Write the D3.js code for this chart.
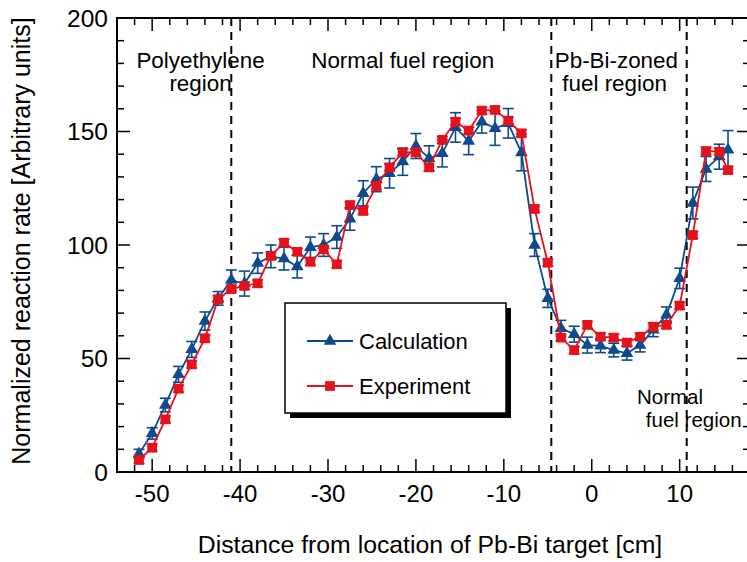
<!DOCTYPE html>
<html><head><meta charset="utf-8">
<script src="https://cdn.jsdelivr.net/npm/d3@7"></script>
<style>body{margin:0;background:#fff;} text{font-family:"Liberation Sans",Arial,sans-serif;fill:#000;}</style>
</head><body><svg id="c" width="747" height="562"></svg>
<script>
const positions = [-51.5,-50,-48.5,-47,-45.5,-44,-42.5,-41,-39.5,-38,-36.5,-35,-33.5,-32,-30.5,-29,-27.5,-26,-24.5,-23,-21.5,-20,-18.5,-17,-15.5,-14,-12.5,-11,-9.5,-8,-6.5,-5,-3.5,-2,-0.5,1,2.5,4,5.5,7,8.5,10,11.5,13,14.5,15.5];
const calculation = [8,17,29.5,43,54,66.5,76.5,84.5,83,92,95,94,90.5,99,100,103.5,111.5,122.8,129,131.6,136.7,143.6,138.2,140.4,151.8,145.8,154.3,151.4,153.6,140.7,100,76.5,63.3,60.7,55.9,55.6,53.7,52.3,55.9,62.6,69.2,85.3,118.5,133.5,138.9,141.9];
const calcError = [2,2.5,3,3.5,3.5,4,3,4.5,5.5,4.5,5,5,5,4.5,5,5,5,5.5,5.5,6.5,6,5.5,5.5,6,6.5,6,5,7.5,6.5,8,5,4,3.5,3.5,3.5,3,3,3,3,3,3.5,4.5,7,5.5,5.5,8.5];
const experiment = [5.3,10.7,23.2,36.7,47.4,58.9,76.1,80.6,82,83.1,95.2,101,97,92.6,98.1,91.5,117.6,115,126,134.2,140.8,140.8,134.2,146.3,154.3,150.4,159.2,159.5,154.8,149.2,115.9,92.2,59.2,53.7,64.8,59.6,59.2,57,59.6,64,64.8,73.3,104.4,141.4,141.1,133];
const expError = [1.5,1.5,1.5,1.5,1.5,1.5,1.5,1.5,1.5,1.5,1.5,1.5,1.5,1.5,1.5,1.5,1.5,1.5,1.5,1.5,1.5,1.5,1.5,1.5,1.5,1.5,1.5,1.5,1.5,1.5,1.5,1.5,1.5,1.5,1.5,1.5,1.5,1.5,1.5,1.5,1.5,1.5,1.5,1.5,1.5,1.5];
const xTicks = [-50,-40,-30,-20,-10,0,10];
const yTicks = [0,50,100,150,200];
const boundaries = [-41,-4.6,10.8];
const regionLabels = [
  {x:-44.5, y:178, text:"Polyethylene", size:22.4},
  {x:-44.5, y:168, text:"region", size:22.4},
  {x:-21.5, y:178, text:"Normal fuel region", size:22.4},
  {x:2.8, y:178, text:"Pb-Bi-zoned", size:22.4},
  {x:2.6, y:168, text:"fuel region", size:22.4},
  {x:8.9, y:30, text:"Normal", size:20.5},
  {x:11.6, y:20, text:"fuel region", size:20.5}
];
const seriesNames = ["Calculation","Experiment"];
const blue = "#0e4a8e", red = "#e3121b";

const svg = d3.select("#c");
const L=117, R=750, T=18, B=472;
const x = d3.scaleLinear().domain([-54,18]).range([L,R]);
const y = d3.scaleLinear().domain([0,200]).range([B,T]);

// frame ticks
const g = svg.append("g");
const minorX = d3.range(-54,19,2).filter(v=>v%10!==0);
const minorY = d3.range(10,200,10).filter(v=>v%50!==0);
function tk(x1,y1,x2,y2){g.append("line").attr("x1",x1).attr("y1",y1).attr("x2",x2).attr("y2",y2).attr("stroke","#000").attr("stroke-width",1.5);}
xTicks.forEach(v=>{tk(x(v),B,x(v),B-13);tk(x(v),T,x(v),T+13);});
minorX.forEach(v=>{tk(x(v),B,x(v),B-7);tk(x(v),T,x(v),T+7);});
yTicks.forEach(v=>{tk(L,y(v),L+13,y(v));tk(R,y(v),R-13,y(v));});
minorY.forEach(v=>{tk(L,y(v),L+7,y(v));tk(R,y(v),R-7,y(v));});
g.append("rect").attr("x",L).attr("y",T).attr("width",R-L).attr("height",B-T).attr("fill","none").attr("stroke","#000").attr("stroke-width",2);

// tick labels
xTicks.forEach(v=>g.append("text").attr("x",x(v)).attr("y",502).attr("text-anchor","middle").attr("font-size",24).text(v));
yTicks.forEach(v=>g.append("text").attr("x",108).attr("y",y(v)+8.5).attr("text-anchor","end").attr("font-size",24.5).text(v));

// axis titles
svg.append("text").attr("x",430).attr("y",553).attr("text-anchor","middle").attr("font-size",24.8).text("Distance from location of Pb-Bi target [cm]");
svg.append("text").attr("transform","translate(30,241) rotate(-90)").attr("text-anchor","middle").attr("font-size",25).text("Normalized reaction rate [Arbitrary units]");

// boundaries
boundaries.forEach(v=>svg.append("line").attr("x1",x(v)).attr("x2",x(v)).attr("y1",T).attr("y2",B).attr("stroke","#000").attr("stroke-width",2).attr("stroke-dasharray","8,6"));

// region labels
regionLabels.forEach(r=>svg.append("text").attr("x",x(r.x)).attr("y",y(r.y)).attr("text-anchor","middle").attr("font-size",r.size).text(r.text));

const calcData = positions.map((p,i)=>({x:p,v:calculation[i],e:calcError[i]}));
const expData = positions.map((p,i)=>({x:p,v:experiment[i],e:expError[i]}));
const line = d3.line().x(d=>x(d.x)).y(d=>y(d.v));

function drawSeries(data,color,sym,size){
  const s = svg.append("g");
  s.append("path").datum(data).attr("d",line).attr("fill","none").attr("stroke",color).attr("stroke-width",1.8);
  data.forEach(d=>{
    const cx=x(d.x), y1=y(d.v+d.e), y2=y(d.v-d.e);
    s.append("line").attr("x1",cx).attr("x2",cx).attr("y1",y1).attr("y2",y2).attr("stroke",color).attr("stroke-width",1.6);
    [y1,y2].forEach(yy=>s.append("line").attr("x1",cx-5.5).attr("x2",cx+5.5).attr("y1",yy).attr("y2",yy).attr("stroke",color).attr("stroke-width",1.6));
  });
  s.selectAll("path.m").data(data).enter().append("path").attr("class","m")
    .attr("transform",d=>`translate(${x(d.x)},${y(d.v)})`)
    .attr("d",d3.symbol().type(sym).size(size)).attr("fill",color);
}
drawSeries(calcData,blue,d3.symbolTriangle,70);
drawSeries(expData,red,d3.symbolSquare,95);

// legend
const lg = svg.append("g");
lg.append("rect").attr("x",290).attr("y",308).attr("width",221).attr("height",110).attr("fill","#000");
lg.append("rect").attr("x",285).attr("y",303).attr("width",221).attr("height",110).attr("fill","#fff").attr("stroke","#000").attr("stroke-width",1.5);
[[blue,d3.symbolTriangle,70,341],[red,d3.symbolSquare,95,386]].forEach((c,i)=>{
  lg.append("line").attr("x1",307).attr("x2",353).attr("y1",c[3]).attr("y2",c[3]).attr("stroke",c[0]).attr("stroke-width",1.8);
  lg.append("path").attr("transform",`translate(330,${c[3]})`).attr("d",d3.symbol().type(c[1]).size(c[2])).attr("fill",c[0]);
  lg.append("text").attr("x",359).attr("y",c[3]+8).attr("font-size",22).text(seriesNames[i]);
});
</script></body></html>
